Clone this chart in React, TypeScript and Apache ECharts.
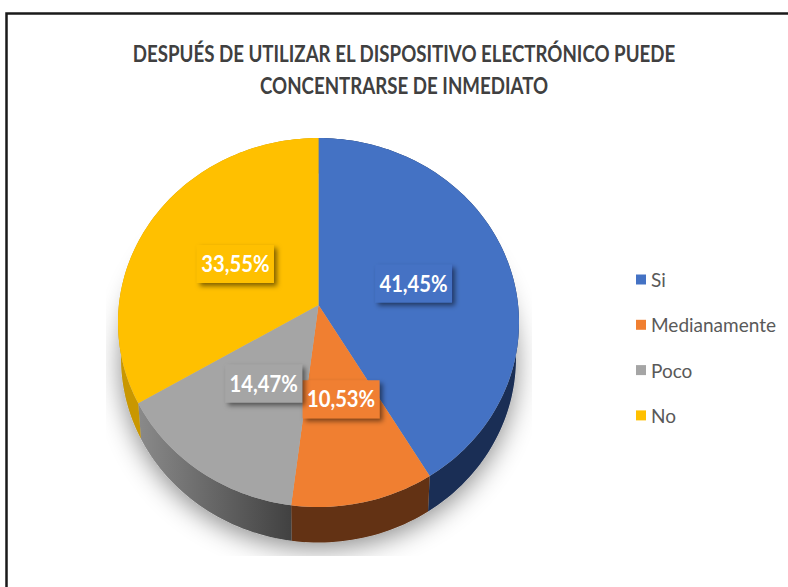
import React, { useEffect, useRef } from "react";
import * as echarts from "echarts";

const categories = ["Si", "Medianamente", "Poco", "No"];
const values = [41.45, 10.53, 14.47, 33.55];
const topColors = ["#4472C4", "#F07F31", "#A5A5A5", "#FFC000"];
const titleLines = [
  "DESPUÉS DE UTILIZAR EL DISPOSITIVO ELECTRÓNICO PUEDE",
  "CONCENTRARSE DE INMEDIATO",
];

const FONT = 'Lato, "Noto Sans", sans-serif';

// Perspective of the tilted disc: apex position, radii and depth of the rim.
const CX = 318.5, CY = 305, RX = 199.6, RY = 182.8, K = 0.095, DEPTH = 35.5, BASE_SCALE = 0.985;
const LABEL_W = 77, LABEL_H = 38;
// Label box centre, as fractions of RX / RY from the apex.
const labelCentres = [
  [0.476, -0.118],
  [0.113, 0.515],
  [-0.275, 0.43],
  [-0.416, -0.224],
];

function project(turn: number, r = 1, base = false): number[] {
  const a = turn * 2 * Math.PI;
  const u = r * Math.sin(a);
  const v = -r * Math.cos(a);
  const d = 1 - K * v;
  const x = (RX * u) / d;
  const y = (RY * v) / d;
  return base ? [CX + x * BASE_SCALE, CY + y + DEPTH] : [CX + x, CY + y];
}

function arc(from: number, to: number, base = false): number[][] {
  const n = Math.max(2, Math.ceil((to - from) * 240));
  const pts: number[][] = [];
  for (let i = 0; i <= n; i++) pts.push(project(from + ((to - from) * i) / n, 1, base));
  return pts;
}

const sideFill = (i: number): any =>
  i === 0
    ? "#1A2E55"
    : i === 1
    ? "#633214"
    : i === 2
    ? new echarts.graphic.LinearGradient(0, 0, 1, 0, [
        { offset: 0, color: "#8A8A8A" },
        { offset: 1, color: "#414141" },
      ])
    : "#C99700";

function renderSlice(params: any, api: any) {
  const i = params.seriesIndex - 1;
  const start = (api.value(1) as number) / 100;
  const end = start + (api.value(0) as number) / 100;
  const mid = labelCentres[i];
  const lx = CX + mid[0] * RX;
  const ly = CY + mid[1] * RY;
  const text = (api.value(0) as number).toFixed(2).replace(".", ",") + "%";
  return {
    type: "group",
    children: [
      {
        type: "polygon",
        z2: 3,
        shape: { points: [...arc(start, end), ...arc(start, end, true).reverse()] },
        style: { fill: sideFill(i) },
      },
      {
        type: "polygon",
        z2: 4,
        shape: { points: [[CX, CY], ...arc(start, end)] },
        style: { fill: topColors[i] },
      },
      {
        type: "rect",
        z2: 5,
        shape: { x: lx - LABEL_W / 2, y: ly - LABEL_H / 2, width: LABEL_W, height: LABEL_H },
        style: {
          fill: topColors[i],
          shadowBlur: 5,
          shadowOffsetX: 3,
          shadowOffsetY: 3,
          shadowColor: "rgba(0,0,0,0.5)",
        },
      },
      {
        type: "text",
        z2: 6,
        x: lx,
        y: ly,
        scaleX: 0.92,
        style: {
          text,
          fill: "#FFFFFF",
          font: `bold 22px ${FONT}`,
          align: "center",
          verticalAlign: "middle",
        },
      },
    ],
  };
}

function renderShadow() {
  const white = { fill: "#FFFFFF" };
  return {
    type: "group",
    children: [
      {
        type: "polygon",
        z2: 0,
        shape: { points: arc(0, 1, true) },
        style: {
          fill: "#BBBBBB",
          shadowBlur: 26,
          shadowOffsetY: 6,
          shadowColor: "rgba(0,0,0,0.45)",
        },
      },
      // The soft shadow stops at a box, as in the source picture.
      { type: "rect", z2: 1, shape: { x: 60, y: 556, width: 520, height: 31 }, style: white },
      { type: "rect", z2: 1, shape: { x: 60, y: 200, width: 46, height: 387 }, style: white },
      { type: "rect", z2: 1, shape: { x: 532, y: 200, width: 48, height: 387 }, style: white },
    ],
  };
}

export default function App() {
  const ref = useRef<HTMLDivElement>(null);
  useEffect(() => {
    const chart = echarts.init(ref.current!, undefined, { renderer: "svg" });
    let cumulative = 0;
    const sliceSeries = categories.map((name, i) => {
      const start = cumulative;
      cumulative += values[i];
      return {
        type: "custom" as const,
        name,
        coordinateSystem: "none",
        silent: true,
        itemStyle: { color: topColors[i] },
        data: [[values[i], start]],
        renderItem: renderSlice,
      };
    });
    chart.setOption({
      animation: false,
      backgroundColor: "#FFFFFF",
      legend: {
        data: categories,
        orient: "vertical",
        left: 636,
        top: 268,
        padding: 0,
        itemWidth: 10,
        itemHeight: 10,
        itemGap: 22.3,
        icon: "rect",
        textStyle: {
          fontFamily: FONT,
          fontSize: 19,
          color: "#595959",
          lineHeight: 23,
        },
      },
      graphic: [
        {
          type: "polyline",
          shape: { points: [[6.5, 587], [6.5, 13.5], [788, 13.5]] },
          style: { stroke: "#1A1A1A", fill: "none", lineWidth: 2.5 },
        },
        ...titleLines.map((text, i) => ({
          type: "text",
          x: 404,
          y: 53 + i * 32,
          scaleX: 0.85,
          style: {
            text,
            fill: "#404040",
            font: `bold 22px ${FONT}`,
            align: "center",
            verticalAlign: "middle",
          },
        })),
      ],
      series: [
        {
          type: "custom",
          name: "sombra",
          coordinateSystem: "none",
          silent: true,
          data: [[0, 0]],
          renderItem: renderShadow,
        },
        ...sliceSeries,
      ],
    });
    return () => chart.dispose();
  }, []);
  return <div ref={ref} style={{ position: "fixed", left: 0, top: 0, width: 788, height: 587 }} />;
}
